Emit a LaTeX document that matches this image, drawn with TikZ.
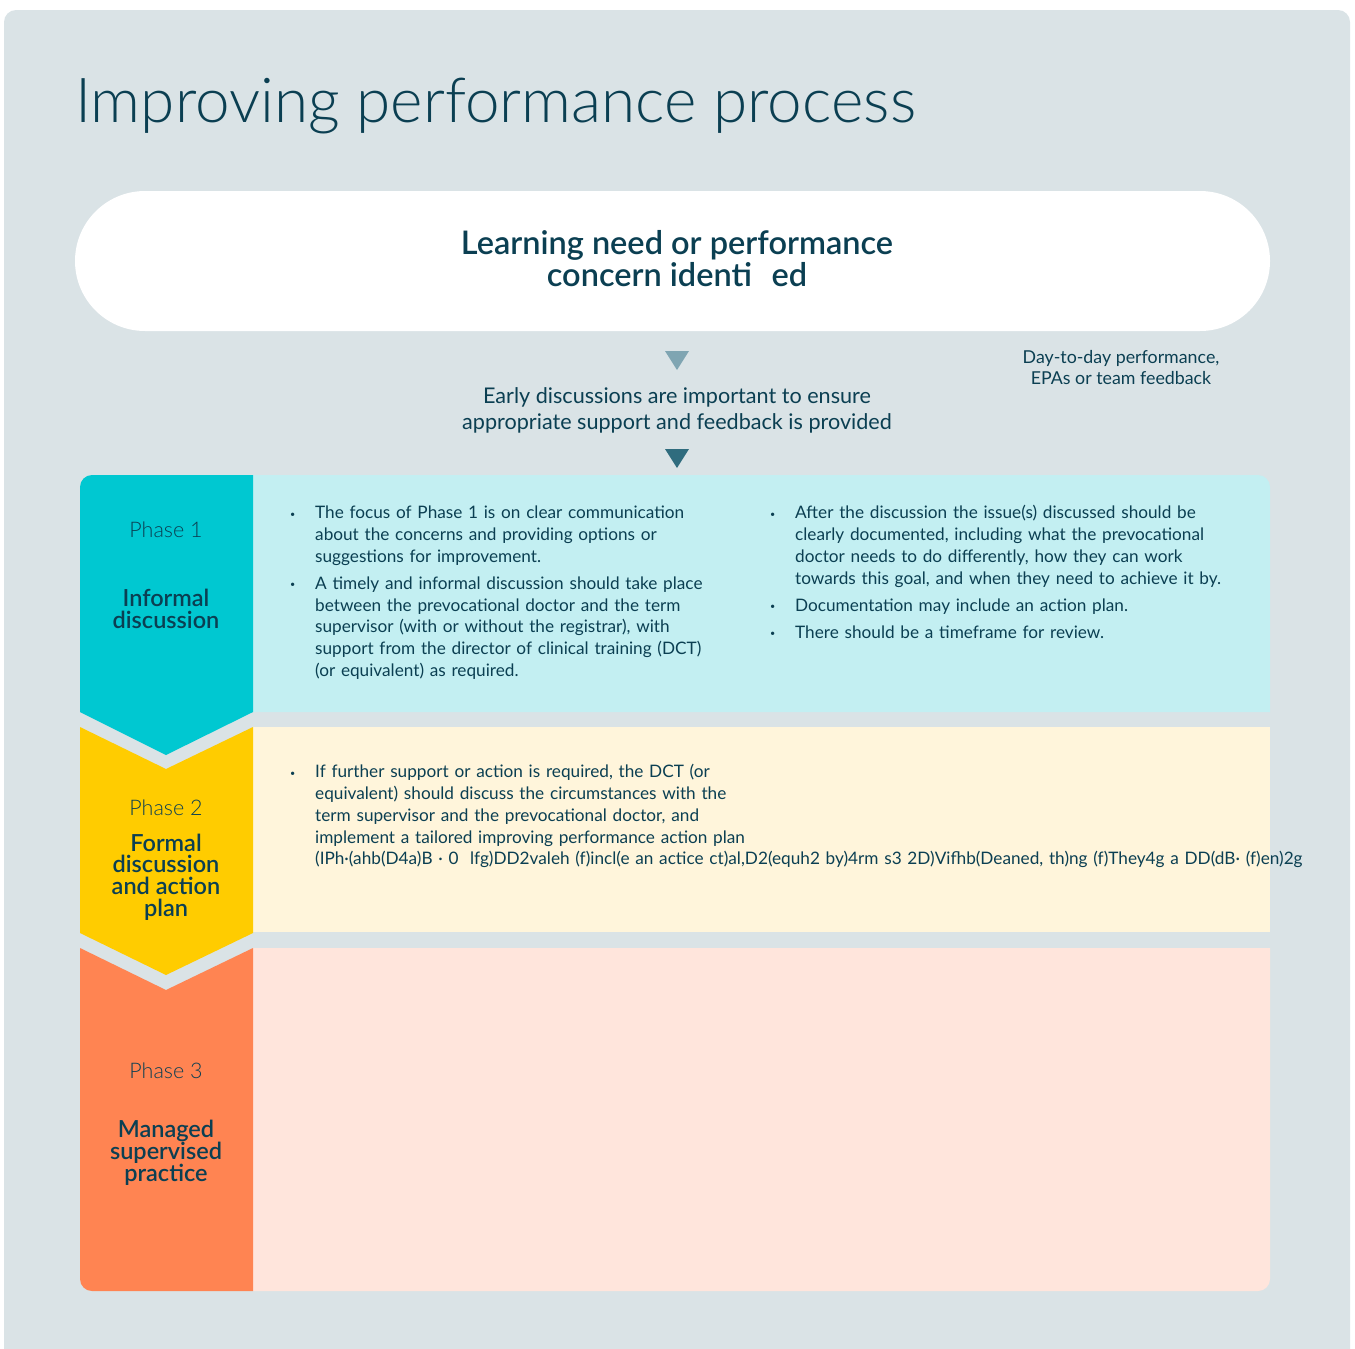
\documentclass[tikz,border=0pt]{standalone}
\usepackage{fontspec}
\setmainfont{Lato}
\newfontfamily\lightfont{Lato Light}
\newfontfamily\medfont{Lato Semibold}
\usetikzlibrary{positioning}

\definecolor{paper}{HTML}{DAE3E6}
\definecolor{inkteal}{HTML}{0B3F52}
\definecolor{arrowpale}{HTML}{7FA5B2}
\definecolor{arrowdark}{HTML}{2F6C7E}
\definecolor{tagcyan}{HTML}{00C8D1}
\definecolor{bodycyan}{HTML}{C3EFF2}
\definecolor{tagyellow}{HTML}{FFCC00}
\definecolor{bodycream}{HTML}{FFF5DB}
\definecolor{tagorange}{HTML}{FF8452}
\definecolor{bodypeach}{HTML}{FFE5DC}

\newcommand{\bulletdot}{\raisebox{1.5pt}{\fontsize{9}{9}\selectfont •}}
\newcommand{\nl}{\hfil\break}
\newcommand{\bitem}{\par\hangindent=25pt\hangafter=1\noindent\makebox[25pt][l]{\bulletdot}}
\newcommand{\itemgap}{\par\vspace{5.3pt}}

\tikzset{
  titletext/.style={font=\lightfont\fontsize{62}{70}\selectfont, text=inkteal, inner sep=0pt},
  pilltext/.style={font=\medfont\fontsize{32.5}{32}\selectfont, text=inkteal, align=center},
  leadtext/.style={font=\fontsize{21.6}{26}\selectfont, text=inkteal, align=center},
  sidetext/.style={font=\fontsize{17.8}{21}\selectfont, text=inkteal, align=center},
  phasenum/.style={font=\lightfont\fontsize{21.5}{24}\selectfont, text=inkteal},
  phasename/.style={font=\medfont\fontsize{23.5}{21.8}\selectfont, text=inkteal, align=center},
  bodytext/.style={font=\fontsize{17.2}{21.7}\selectfont, text=inkteal, anchor=north west,
    inner sep=0pt, text width=460pt},
}

\begin{document}
\begin{tikzpicture}[x=1pt, y=-1pt]
\useasboundingbox (0,0) rectangle (1355,1349);
\fill[paper, rounded corners=12pt] (4,10) rectangle (1350,1370);

% heading
\node[titletext, anchor=base west] (title) at (75,122) {Improving performance process};

% trigger
\fill[white, rounded corners=70pt] (75,191) rectangle (1270,331);
\node[pilltext] (trigger) at (677,259) {Learning need or performance\\concern identi\hspace{0.6em}ed};
\node[sidetext] (source) at (1121,368) {Day-to-day performance,\\EPAs or team feedback};

\fill[arrowpale] (665,351) -- (689,351) -- (677,370) -- cycle;
\node[leadtext] (early) at (677,410) {Early discussions are important to ensure\\appropriate support and feedback is provided};
\fill[arrowdark] (665,449) -- (689,449) -- (677,468) -- cycle;

% phase 1
\fill[bodycyan] (253,475) -- (1258,475) arc[start angle=270, end angle=360, radius=12] -- (1270,712) -- (253,712) -- cycle;
\fill[tagcyan] (80,712) -- (80,487) arc[start angle=180, end angle=270, radius=12] -- (253,475) -- (253,712) -- (166,755) -- cycle;
\node[phasenum] (p1num) at (166,530) {Phase 1};
\node[phasename] (p1name) at (166,609) {Informal\\discussion};
\node[bodytext] (p1left) at (290,497) {%
  \bitem The focus of Phase 1 is on clear communication\nl about the concerns and providing options or\nl suggestions for improvement.
  \itemgap
  \bitem A timely and informal discussion should take place\nl between the prevocational doctor and the term\nl supervisor (with or without the registrar), with\nl support from the director of clinical training (DCT)\nl (or equivalent) as required.\par};
\node[bodytext] (p1right) at (770,497) {%
  \bitem After the discussion the issue(s) discussed should be\nl clearly documented, including what the prevocational\nl doctor needs to do differently, how they can work\nl towards this goal, and when they need to achieve it by.
  \itemgap
  \bitem Documentation may include an action plan.
  \itemgap
  \bitem There should be a timeframe for review.\par};

% phase 2
\fill[bodycream] (253,727) rectangle (1270,932);
\fill[tagyellow] (80,727) -- (166,769) -- (253,727) -- (253,933) -- (166,975) -- (80,933) -- cycle;
\node[phasenum] (p2num) at (166,808) {Phase 2};
\node[phasename] (p2name) at (166,877) {Formal\\discussion\\and action\\plan};
\node[bodytext] (p2text) at (290,756) {%
  \bitem If further support or action is required, the DCT (or\nl equivalent) should discuss the circumstances with the\nl term supervisor and the prevocational doctor, and\nl implement a tailored improving performance action plan\nl \makebox[0pt][l]{(IPh·(ahb(D4a)B · 0 \ lfg)DD2valeh (f)incl(e an actice ct)al,D2(equh2 by)4rm s3 2D)Vifhb(Deaned, th)ng (f)They4g a DD(dB· (f)en)2g}\par};

% phase 3
\fill[bodypeach] (253,948) -- (1270,948) -- (1270,1279) arc[start angle=0, end angle=90, radius=12] -- (253,1291) -- cycle;
\fill[tagorange] (80,948) -- (166,990) -- (253,948) -- (253,1291) -- (92,1291) arc[start angle=90, end angle=180, radius=12] -- cycle;
\node[phasenum] (p3num) at (166,1071) {Phase 3};
\node[phasename] (p3name) at (166,1153) {Managed\\supervised\\practice};
\end{tikzpicture}
\end{document}
